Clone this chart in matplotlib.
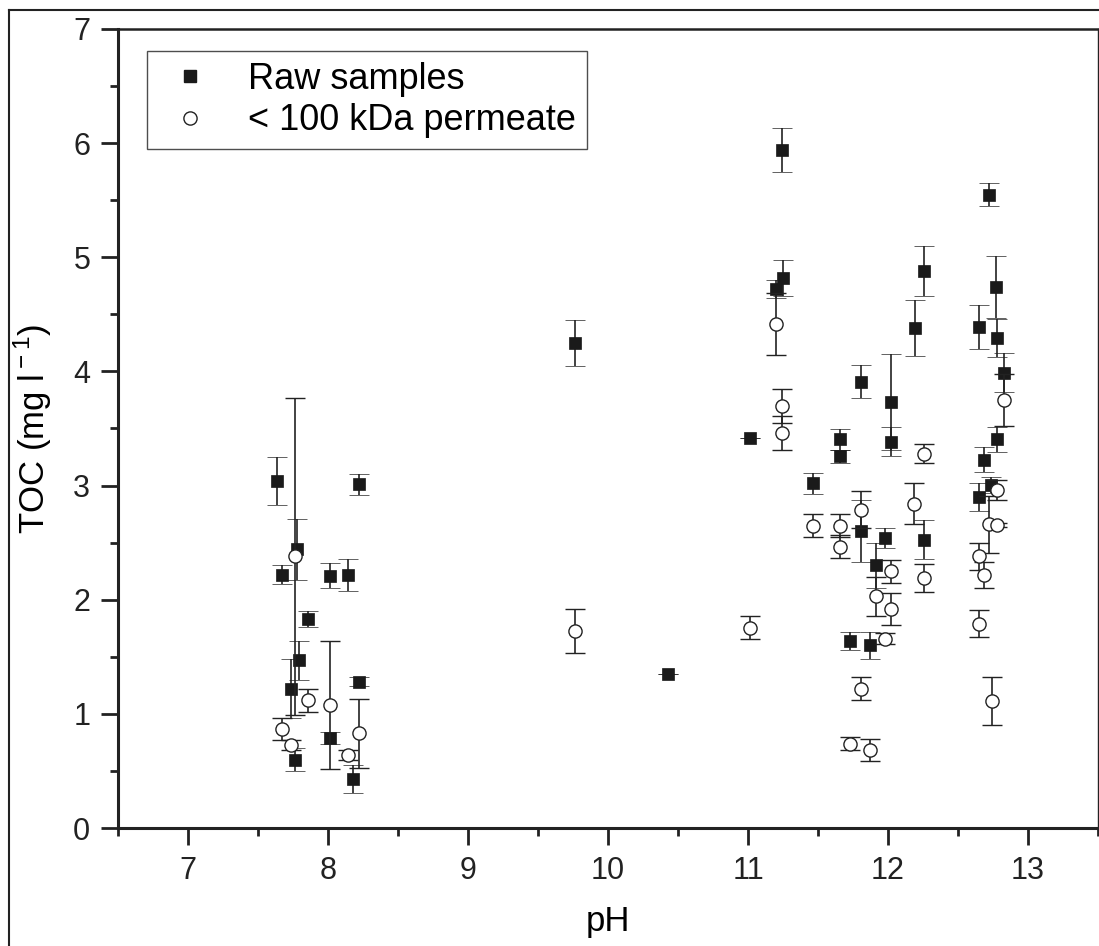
import matplotlib
matplotlib.use("Agg")
import matplotlib.pyplot as plt
from matplotlib.lines import Line2D

plt.rcParams["font.family"] = ["Liberation Sans", "DejaVu Sans"]
plt.rcParams["mathtext.fontset"] = "custom"
plt.rcParams["mathtext.rm"] = "Liberation Sans"

# Raw samples (filled squares)
raw_ph = [7.634, 7.669, 7.776, 7.860, 7.795, 7.736, 7.764, 8.014, 8.014, 8.140,
          8.224, 8.224, 8.176, 9.764, 10.426, 11.014, 11.198, 11.247, 11.240, 11.467,
          11.657, 11.657, 11.729, 11.807, 11.807, 11.871, 11.914, 11.979, 12.019, 12.019,
          12.193, 12.257, 12.257, 12.650, 12.650, 12.688, 12.721, 12.736, 12.769, 12.776,
          12.776, 12.829]
raw_toc = [3.04, 2.22, 2.44, 1.83, 1.47, 1.22, 0.60, 2.21, 0.79, 2.22,
           3.01, 1.28, 0.43, 4.25, 1.345, 3.42, 4.72, 4.82, 5.94, 3.02,
           3.405, 3.255, 1.64, 3.91, 2.60, 1.60, 2.30, 2.54, 3.73, 3.385,
           4.38, 4.88, 2.524, 4.39, 2.90, 3.225, 5.55, 3.006, 4.74, 4.29,
           3.405, 3.99]
raw_err = [0.21, 0.08, 0.27, 0.07, 0.17, 0.26, 0.10, 0.11, 0.05, 0.14,
           0.09, 0.04, 0.12, 0.20, 0.0, 0.0, 0.08, 0.16, 0.19, 0.09,
           0.09, 0.06, 0.08, 0.145, 0.27, 0.12, 0.20, 0.09, 0.42, 0.13,
           0.245, 0.22, 0.17, 0.19, 0.12, 0.11, 0.10, 0.07, 0.27, 0.165,
           0.11, 0.17]

# < 100 kDa permeate (open circles)
perm_ph = [7.674, 7.736, 7.764, 7.860, 8.014, 8.140, 8.224, 9.764, 11.014, 11.198,
           11.245, 11.240, 11.467, 11.657, 11.657, 11.729, 11.807, 11.807, 11.871, 11.914,
           11.979, 12.019, 12.019, 12.188, 12.257, 12.257, 12.650, 12.650, 12.688, 12.721,
           12.740, 12.776, 12.776, 12.829]
perm_toc = [0.865, 0.727, 2.38, 1.12, 1.08, 0.64, 0.83, 1.727, 1.754, 4.417,
            3.70, 3.46, 2.65, 2.647, 2.464, 0.74, 2.79, 1.22, 0.684, 2.03,
            1.66, 2.25, 1.92, 2.84, 3.28, 2.19, 2.38, 1.79, 2.217, 2.66,
            1.11, 2.96, 2.655, 3.75]
perm_err = [0.095, 0.04, 1.39, 0.10, 0.56, 0.04, 0.30, 0.19, 0.10, 0.27,
            0.15, 0.15, 0.10, 0.10, 0.10, 0.06, 0.165, 0.10, 0.10, 0.17,
            0.05, 0.10, 0.14, 0.18, 0.08, 0.12, 0.12, 0.12, 0.115, 0.25,
            0.21, 0.09, 0.02, 0.23]

W, H = 1099, 946
fig = plt.figure(figsize=(W / 100, H / 100), dpi=100)
ax = fig.add_axes([118 / W, 1 - 828 / H, 980 / W, 799 / H])

eb_style = dict(ls="none", ecolor="#222222", elinewidth=1.2, capsize=7, capthick=1.2)
ax.errorbar(raw_ph, raw_toc, yerr=raw_err, fmt="s", ms=8.5, mfc="#1a1a1a", mec="#1a1a1a",
            mew=0.5, zorder=3, **eb_style)
ax.errorbar(perm_ph, perm_toc, yerr=perm_err, fmt="o", ms=9.5, mfc="white", mec="#222222",
            mew=1.0, zorder=4, **eb_style)

ax.set_xlim(6.5, 13.5)
ax.set_ylim(0, 7)
ax.set_xticks([7, 8, 9, 10, 11, 12, 13])
ax.set_xticks([6.5, 7.5, 8.5, 9.5, 10.5, 11.5, 12.5, 13.5], minor=True)
ax.set_yticks(range(0, 8))
ax.set_yticks([0.5, 1.5, 2.5, 3.5, 4.5, 5.5, 6.5], minor=True)
ax.tick_params(which="both", direction="out", width=2, colors="#222222",
               top=False, right=False, labelsize=22, pad=8)
ax.tick_params(which="major", length=12)
ax.tick_params(which="minor", length=6)

for side in ["left", "bottom"]:
    ax.spines[side].set_linewidth(2.2)
ax.spines["top"].set_linewidth(1.8)
ax.spines["right"].set_linewidth(1.0)
for sp in ax.spines.values():
    sp.set_color("#222222")

ax.set_xlabel("pH", fontsize=25, labelpad=14)
ax.set_ylabel("TOC (mg l$^{\\rm -1}$)", fontsize=25, labelpad=14)

handles = [
    Line2D([], [], ls="none", marker="s", ms=8.5, mfc="#1a1a1a", mec="#1a1a1a"),
    Line2D([], [], ls="none", marker="o", ms=9.5, mfc="white", mec="#222222", mew=1.0),
]
leg = ax.legend(handles, ["Raw samples", "< 100 kDa permeate"], loc="upper left",
                bbox_to_anchor=((147 - 118) / 980, (828 - 51) / 799), borderaxespad=0,
                fontsize=26, frameon=True, fancybox=False, handlelength=1.8,
                handletextpad=0.7, borderpad=0.3, labelspacing=0.18)
leg.get_frame().set_edgecolor("#222222")
leg.get_frame().set_linewidth(1.0)

# scan border around the figure
fig.add_artist(Line2D([9 / W, 9 / W], [0, 1 - 10 / H], color="#222222", lw=1.5))
fig.add_artist(Line2D([9 / W, 1], [1 - 10 / H, 1 - 10 / H], color="#222222", lw=1.5))

fig.savefig("out.png", dpi=100)
